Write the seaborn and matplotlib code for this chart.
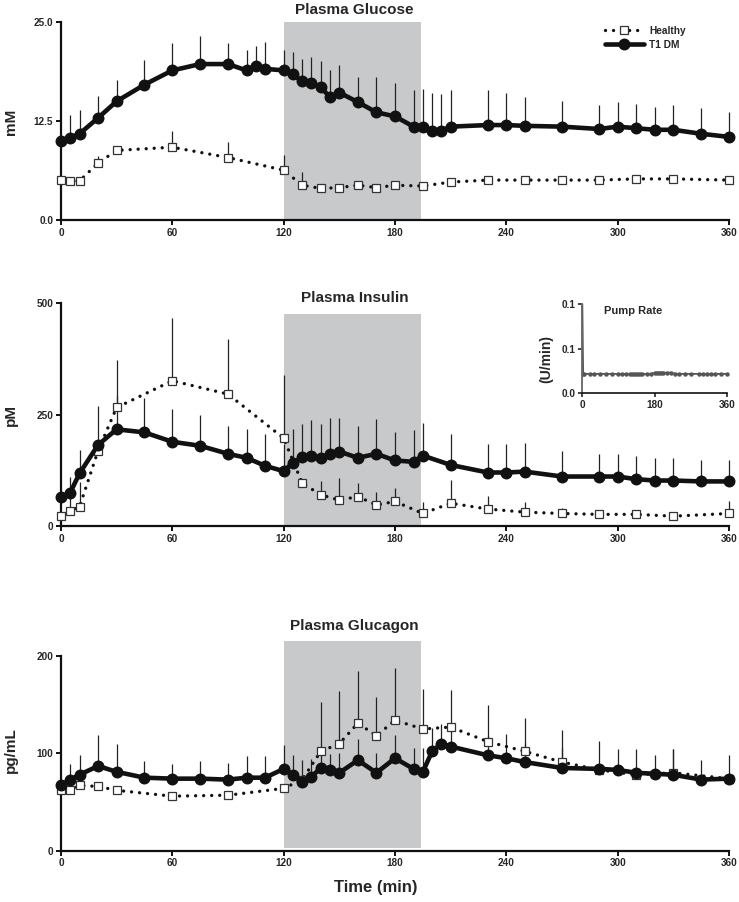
import numpy as np
import seaborn as sns
import matplotlib.pyplot as plt
from matplotlib.lines import Line2D

# Data

# glucose (mM)
glu_t1_time = [0, 5, 10, 20, 30, 45, 60, 75, 90, 100, 105, 110, 120, 125, 130, 135, 140, 145, 150,
               160, 170, 180, 190, 195, 200, 205, 210, 230, 240, 250, 270, 290, 300, 310, 320, 330, 345, 360]
glu_t1 = [10.0, 10.4, 10.9, 12.9, 15.0, 17.1, 18.9, 19.7, 19.7, 18.9, 19.4, 19.1, 18.9, 18.4, 17.5, 17.3,
          16.8, 15.5, 16.1, 14.9, 13.6, 13.1, 11.8, 11.8, 11.3, 11.3, 11.8, 12.0, 12.0, 11.9, 11.8, 11.5,
          11.8, 11.6, 11.4, 11.4, 10.9, 10.5]
glu_t1_err = [0.5, 2.9, 3.0, 2.8, 2.7, 3.1, 3.4, 3.5, 2.7, 2.6, 2.6, 3.4, 2.6, 2.8, 2.8, 3.3, 3.3, 3.4,
              3.5, 3.2, 4.5, 4.2, 4.6, 4.8, 4.8, 4.6, 4.6, 4.4, 4.1, 3.7, 3.3, 3.0, 3.1, 3.1, 2.9, 3.1,
              3.2, 3.2]
glu_h_time = [0, 5, 10, 20, 30, 60, 90, 120, 130, 140, 150, 160, 170, 180, 195, 210, 230, 250, 270,
              290, 310, 330, 360]
glu_h = [5.05, 4.9, 4.95, 7.2, 8.8, 9.2, 7.9, 6.3, 4.4, 4.0, 4.1, 4.4, 4.1, 4.4, 4.3, 4.8, 5.05, 5.05,
         5.05, 5.05, 5.2, 5.2, 5.05]
glu_h_err = [0.3, 0.3, 0.3, 0.9, 0.4, 2.0, 2.0, 1.9, 1.7, 0.3, 0.3, 0.3, 0.3, 0.3, 0.3, 0.3, 0.3, 0.3,
             0.3, 0.3, 0.3, 0.3, 0.3]

# insulin (pM)
ins_t1_time = [0, 5, 10, 20, 30, 45, 60, 75, 90, 100, 110, 120, 125, 130, 135, 140, 145, 150, 160, 170,
               180, 190, 195, 210, 230, 240, 250, 270, 290, 300, 310, 320, 330, 345, 360]
ins_t1 = [64, 75, 118, 182, 217, 210, 189, 180, 162, 153, 135, 123, 142, 154, 157, 152, 162, 167, 153,
          162, 147, 144, 158, 137, 120, 120, 122, 111, 111, 111, 105, 102, 102, 100, 100]
ins_t1_err = [10, 34, 53, 87, 75, 77, 73, 69, 63, 65, 71, 60, 75, 76, 80, 76, 81, 76, 72, 78, 65, 72,
              73, 70, 64, 63, 64, 57, 51, 50, 52, 50, 50, 47, 47]
ins_h_time = [0, 5, 10, 20, 30, 60, 90, 120, 130, 140, 150, 160, 170, 180, 195, 210, 230, 250, 270,
              290, 310, 330, 360]
ins_h = [23, 34, 43, 169, 266, 326, 296, 197, 96, 70, 58, 66, 47, 55, 28, 51, 38, 31, 28, 26, 26, 22, 28]
ins_h_err = [8, 54, 55, 20, 107, 140, 123, 142, 10, 30, 49, 31, 30, 30, 25, 52, 30, 22, 12, 10, 10, 8, 29]

# glucagon (pg/mL)
gcg_t1_time = [0, 5, 10, 20, 30, 45, 60, 75, 90, 100, 110, 120, 125, 130, 135, 140, 145, 150, 160, 170,
               180, 190, 195, 200, 205, 210, 230, 240, 250, 270, 290, 300, 310, 320, 330, 345, 360]
gcg_t1 = [67, 73, 78, 87, 81, 75, 74, 74, 73, 75, 75, 84, 78, 71, 76, 85, 83, 80, 93, 80, 95, 84, 81,
          102, 110, 107, 98, 95, 91, 85, 84, 83, 80, 79, 78, 73, 74]
gcg_t1_err = [5, 16, 20, 32, 29, 17, 15, 18, 17, 22, 22, 25, 20, 22, 18, 14, 16, 20, 22, 20, 24, 21,
              24, 24, 20, 18, 20, 25, 20, 20, 29, 21, 24, 19, 26, 20, 24]
gcg_h_time = [0, 5, 10, 20, 30, 60, 90, 120, 130, 140, 150, 160, 170, 180, 195, 210, 230, 250, 270,
              290, 310, 330, 360]
gcg_h = [62, 62, 67, 66, 62, 56, 57, 64, 73, 102, 110, 131, 118, 134, 125, 127, 112, 102, 91, 83, 78,
         80, 74]
gcg_h_err = [3, 3, 3, 3, 3, 3, 3, 3, 5, 51, 54, 54, 40, 54, 41, 38, 38, 34, 33, 5, 5, 24, 5]

# insulin pump rate (U/min), inset
pump_time = [0, 2, 5, 20, 30, 45, 60, 75, 90, 100, 110, 120, 125, 130, 135, 140, 145, 150, 160, 170,
             180, 185, 190, 195, 200, 210, 220, 230, 240, 255, 270, 290, 300, 310, 320, 330, 345, 360]
pump_rate = [0.1, 0.0213, 0.0213, 0.0213, 0.0213, 0.0213, 0.0213, 0.0213, 0.0213, 0.0213, 0.0213,
             0.0213, 0.0213, 0.0213, 0.0213, 0.0213, 0.0213, 0.0213, 0.0213, 0.0213, 0.0225, 0.0228,
             0.0228, 0.0228, 0.0228, 0.0225, 0.0228, 0.0215, 0.0213, 0.0213, 0.0213, 0.0213, 0.0213,
             0.0213, 0.0213, 0.0213, 0.0213, 0.0213]

clamp_start, clamp_end = 120, 194

sns.set_style("ticks")
plt.rcParams['font.family'] = ['Liberation Sans', 'DejaVu Sans']
plt.rcParams['font.weight'] = 'bold'

DARK = '#111111'
SHADE = '#c8c9cb'
TICK_FS = 7.2

fig = plt.figure(figsize=(7.39, 9.02), dpi=100)
ax_glu = fig.add_axes([0.0825, 0.756, 0.904, 0.2195])
ax_ins = fig.add_axes([0.0825, 0.4169, 0.904, 0.2469])
ax_gcg = fig.add_axes([0.0825, 0.0569, 0.904, 0.2374])


def draw_panel(ax, th, yh, eh, tt, yt, et):
    # upward-only SD bars
    ax.vlines(th, yh, np.array(yh) + np.array(eh), color='#222222', lw=0.9, zorder=2, clip_on=False)
    ax.vlines(tt, yt, np.array(yt) + np.array(et), color='#222222', lw=0.9, zorder=2, clip_on=False)
    sns.lineplot(x=th, y=yh, ax=ax, color=DARK, lw=2.4, linestyle=(0, (0.01, 2.4)),
                 dash_capstyle='round', marker='s', markersize=6.3, markerfacecolor='white',
                 markeredgecolor='#333333', markeredgewidth=0.9, zorder=3, clip_on=False)
    sns.lineplot(x=tt, y=yt, ax=ax, color=DARK, lw=3.3, marker='o', markersize=8.6,
                 markeredgewidth=0, zorder=4, clip_on=False)


draw_panel(ax_glu, glu_h_time, glu_h, glu_h_err, glu_t1_time, glu_t1, glu_t1_err)
draw_panel(ax_ins, ins_h_time, ins_h, ins_h_err, ins_t1_time, ins_t1, ins_t1_err)
draw_panel(ax_gcg, gcg_h_time, gcg_h, gcg_h_err, gcg_t1_time, gcg_t1, gcg_t1_err)

ax_glu.axvspan(clamp_start, clamp_end, ymin=0, ymax=1, color=SHADE, lw=0, zorder=0)
ax_ins.axvspan(clamp_start, clamp_end, ymin=0, ymax=476 / 500, color=SHADE, lw=0, zorder=0)
ax_gcg.axvspan(clamp_start, clamp_end, ymin=3 / 220, ymax=215 / 220, color=SHADE, lw=0, zorder=0)

for ax, top, ticks, labels in [
    (ax_glu, 25, [0, 12.5, 25], ['0.0', '12.5', '25.0']),
    (ax_ins, 500, [0, 250, 500], ['0', '250', '500']),
    (ax_gcg, 220, [0, 100, 200], ['0', '100', '200']),
]:
    ax.set_xlim(0, 360)
    ax.set_ylim(0, top)
    ax.set_xticks(range(0, 361, 60))
    ax.set_xticklabels([str(v) for v in range(0, 361, 60)], fontsize=TICK_FS, fontweight='bold')
    ax.set_yticks(ticks)
    ax.set_yticklabels(labels, fontsize=TICK_FS, fontweight='bold')
    ax.spines['left'].set_bounds(0, ticks[-1])
    sns.despine(ax=ax)
    for s in ['left', 'bottom']:
        ax.spines[s].set_linewidth(1.6)
        ax.spines[s].set_color(DARK)
    ax.tick_params(length=3.5, width=1.4, color=DARK, pad=2)
    ax.set_xlabel('')
    ax.set_ylabel('')
    ax.set_facecolor('none')

# titles and axis labels
fig.text(0.480, 0.989, 'Plasma Glucose', ha='center', va='center', fontsize=11, fontweight='bold')
fig.text(0.480, 0.6696, 'Plasma Insulin', ha='center', va='center', fontsize=11, fontweight='bold')
fig.text(0.480, 0.306, 'Plasma Glucagon', ha='center', va='center', fontsize=11, fontweight='bold')
fig.text(0.0145, 0.865, 'mM', rotation=90, ha='center', va='center', fontsize=11, fontweight='bold')
fig.text(0.0145, 0.540, 'pM', rotation=90, ha='center', va='center', fontsize=11, fontweight='bold')
fig.text(0.0145, 0.168, 'pg/mL', rotation=90, ha='center', va='center', fontsize=11, fontweight='bold')
fig.text(0.508, 0.016, 'Time (min)', ha='center', va='center', fontsize=12, fontweight='bold')

# legend
handles = [
    Line2D([], [], color=DARK, lw=2.4, linestyle=(0, (0.01, 2.4)), dash_capstyle='round', marker='s',
           markersize=6.3, markerfacecolor='white', markeredgecolor='#333333', markeredgewidth=0.9),
    Line2D([], [], color=DARK, lw=3.3, marker='o', markersize=8.6, markeredgewidth=0),
]
fig.legend(handles, ['Healthy', 'T1 DM'], loc='upper left', bbox_to_anchor=(0.812, 0.977),
           frameon=False, handlelength=3.8, handletextpad=0.55, labelspacing=0.4, borderpad=0,
           prop={'weight': 'bold', 'size': 7.3})

# inset: pump rate
ax_pump = fig.add_axes([0.788, 0.5646, 0.1954, 0.098])
sns.lineplot(x=pump_time, y=pump_rate, ax=ax_pump, color='#555555', lw=1.3, marker='o',
             markersize=3.2, markeredgewidth=0, markevery=list(range(1, len(pump_time))),
             clip_on=False)
ax_pump.set_xlim(0, 360)
ax_pump.set_ylim(0, 0.1)
ax_pump.set_xticks([0, 180, 360])
ax_pump.set_xticklabels(['0', '180', '360'], fontsize=TICK_FS, fontweight='bold')
ax_pump.set_yticks([0, 0.05, 0.1])
ax_pump.set_yticklabels(['0.0', '0.1', '0.1'], fontsize=TICK_FS, fontweight='bold')
sns.despine(ax=ax_pump)
ax_pump.spines['left'].set_linewidth(1.3)
ax_pump.spines['left'].set_color('#666666')
ax_pump.spines['bottom'].set_linewidth(1.2)
ax_pump.spines['bottom'].set_color(DARK)
ax_pump.tick_params(length=3, width=1.1, color=DARK, pad=2)
ax_pump.set_xlabel('')
ax_pump.set_ylabel('(U/min)', fontsize=10, fontweight='bold')
ax_pump.yaxis.set_label_coords(-0.2, 0.38)
ax_pump.set_facecolor('none')
ax_pump.text(0.35, 0.93, 'Pump Rate', transform=ax_pump.transAxes, ha='center', va='center',
             fontsize=8, fontweight='bold')

fig.savefig('out.png', dpi=100)
